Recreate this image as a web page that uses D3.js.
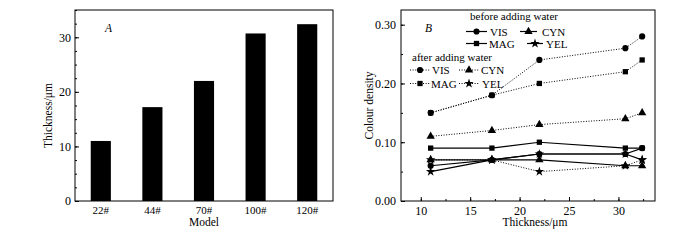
<!DOCTYPE html>
<html>
<head>
<meta charset="utf-8">
<script src="https://cdn.jsdelivr.net/npm/d3@7"></script>
<style>
  body { margin: 0; background: white; }
  text { font-family: "Liberation Serif", "DejaVu Serif", serif; fill: #000; }
</style>
</head>
<body>
<div id="chart"></div>
<script>
// data
const models = ["22#", "44#", "70#", "100#", "120#"];
const modelThickness = [11, 17.2, 22, 30.7, 32.4];

const thickness = [11, 17.2, 22, 30.7, 32.4];
const visBefore = [0.06, 0.07, 0.08, 0.08, 0.09];
const magBefore = [0.09, 0.09, 0.10, 0.09, 0.09];
const cynBefore = [0.07, 0.07, 0.07, 0.06, 0.06];
const yelBefore = [0.05, 0.07, 0.08, 0.08, 0.07];
const visAfter = [0.15, 0.18, 0.24, 0.26, 0.28];
const magAfter = [0.15, 0.18, 0.20, 0.22, 0.24];
const cynAfter = [0.11, 0.12, 0.13, 0.14, 0.15];
const yelAfter = [0.07, 0.07, 0.05, 0.06, 0.07];

const yTicksA = [0, 10, 20, 30];
const xTicksB = [10, 15, 20, 25, 30];
const yTicksB = [0, 0.1, 0.2, 0.3];

const width = 700;
const height = 240;

const svg = d3.select("#chart")
    .append("svg")
    .attr("width", width)
    .attr("height", height)
    .style("background-color", "white");

const tickFont = "12px";
const labelFont = "11.5px";
const legendFont = "11px";

//---------- panel A ----------
const boxA = {l: 75, r: 333, t: 10, b: 201};

const xA = d3.scaleBand()
    .domain(models)
    .range([boxA.l, boxA.r])
    .paddingInner(0.61)
    .paddingOuter(0.305);

const yA = d3.scaleLinear()
    .domain([0, 35])
    .range([boxA.b, boxA.t]);

const gA = svg.append("g");

gA.selectAll("rect.bar")
    .data(models)
    .enter()
    .append("rect")
    .attr("class", "bar")
    .attr("x", d => xA(d))
    .attr("width", xA.bandwidth())
    .attr("y", (d, i) => yA(modelThickness[i]))
    .attr("height", (d, i) => yA(0) - yA(modelThickness[i]))
    .attr("fill", "#000");

// minor ticks
gA.append("g")
    .attr("transform", `translate(${boxA.l},0)`)
    .call(d3.axisRight(yA).tickValues(d3.range(0, 35.1, 2.5)).tickSize(2).tickFormat(""))
    .call(g => g.select(".domain").remove());

gA.append("g")
    .attr("transform", `translate(${boxA.l},0)`)
    .call(d3.axisLeft(yA).tickValues(yTicksA).tickSize(0).tickPadding(4))
    .call(g => g.select(".domain").remove())
    .call(g => g.selectAll("text").style("font-size", tickFont));

gA.append("g")
    .attr("transform", `translate(${boxA.l},0)`)
    .call(d3.axisRight(yA).tickValues(yTicksA).tickSize(4).tickFormat(""))
    .call(g => g.select(".domain").remove());

gA.append("g")
    .attr("transform", `translate(0,${boxA.b})`)
    .call(d3.axisBottom(xA).tickSize(0).tickPadding(5))
    .call(g => g.select(".domain").remove())
    .call(g => g.selectAll("text").style("font-size", "11px"));

gA.append("rect")
    .attr("x", boxA.l)
    .attr("y", boxA.t)
    .attr("width", boxA.r - boxA.l)
    .attr("height", boxA.b - boxA.t)
    .attr("fill", "none")
    .attr("stroke", "#000")
    .attr("stroke-width", 1);

gA.append("text")
    .attr("x", 105)
    .attr("y", 32)
    .style("font-style", "italic")
    .style("font-size", labelFont)
    .text("A");

gA.append("text")
    .attr("transform", `translate(52,${(boxA.t + boxA.b) / 2 + 10}) rotate(-90)`)
    .attr("text-anchor", "middle")
    .style("font-size", labelFont)
    .text("Thickness/μm");

gA.append("text")
    .attr("x", (boxA.l + boxA.r) / 2)
    .attr("y", 226)
    .attr("text-anchor", "middle")
    .style("font-size", labelFont)
    .text("Model");

//---------- panel B ----------
const boxB = {l: 401, r: 655, t: 10, b: 201};

const xB = d3.scaleLinear()
    .domain([8, 33.7])
    .range([boxB.l, boxB.r]);

const yB = d3.scaleLinear()
    .domain([0, 0.325])
    .range([boxB.b, boxB.t]);

const gB = svg.append("g");

gB.append("g")
    .attr("transform", `translate(0,${boxB.b})`)
    .call(d3.axisTop(xB).tickValues(d3.range(10, 33.6, 2.5)).tickSize(2).tickFormat(""))
    .call(g => g.select(".domain").remove());
gB.append("g")
    .attr("transform", `translate(0,${boxB.b})`)
    .call(d3.axisTop(xB).tickValues(xTicksB).tickSize(4).tickFormat(""))
    .call(g => g.select(".domain").remove());
gB.append("g")
    .attr("transform", `translate(0,${boxB.b})`)
    .call(d3.axisBottom(xB).tickValues(xTicksB).tickSize(0).tickPadding(5))
    .call(g => g.select(".domain").remove())
    .call(g => g.selectAll("text").style("font-size", tickFont));

gB.append("g")
    .attr("transform", `translate(${boxB.l},0)`)
    .call(d3.axisRight(yB).tickValues(d3.range(0, 0.33, 0.05)).tickSize(2).tickFormat(""))
    .call(g => g.select(".domain").remove());
gB.append("g")
    .attr("transform", `translate(${boxB.l},0)`)
    .call(d3.axisRight(yB).tickValues(yTicksB).tickSize(4).tickFormat(""))
    .call(g => g.select(".domain").remove());
gB.append("g")
    .attr("transform", `translate(${boxB.l},0)`)
    .call(d3.axisLeft(yB).tickValues(yTicksB).tickSize(0).tickPadding(5).tickFormat(d3.format(".2f")))
    .call(g => g.select(".domain").remove())
    .call(g => g.selectAll("text").style("font-size", tickFont));

gB.append("rect")
    .attr("x", boxB.l)
    .attr("y", boxB.t)
    .attr("width", boxB.r - boxB.l)
    .attr("height", boxB.b - boxB.t)
    .attr("fill", "none")
    .attr("stroke", "#000")
    .attr("stroke-width", 1);

const symbols = {
    VIS: d3.symbol().type(d3.symbolCircle).size(30)(),
    MAG: d3.symbol().type(d3.symbolSquare).size(28)(),
    CYN: d3.symbol().type(d3.symbolTriangle).size(30)(),
    YEL: d3.symbol().type(d3.symbolStar).size(28)()
};

const dotted = "1,1.6";

const series = [
    {name: "VIS", values: visAfter, dash: dotted},
    {name: "MAG", values: magAfter, dash: dotted},
    {name: "CYN", values: cynAfter, dash: dotted},
    {name: "YEL", values: yelAfter, dash: dotted},
    {name: "MAG", values: magBefore, dash: null},
    {name: "CYN", values: cynBefore, dash: null},
    {name: "VIS", values: visBefore, dash: null},
    {name: "YEL", values: yelBefore, dash: null}
];

const line = d3.line()
    .x((d, i) => xB(thickness[i]))
    .y(d => yB(d));

series.forEach(s => {
    gB.append("path")
        .attr("d", line(s.values))
        .attr("fill", "none")
        .attr("stroke", "#000")
        .attr("stroke-width", s.dash ? 1 : 1.2)
        .attr("stroke-dasharray", s.dash);
});

series.forEach(s => {
    gB.selectAll(null)
        .data(s.values)
        .enter()
        .append("path")
        .attr("d", symbols[s.name])
        .attr("transform", (d, i) => `translate(${xB(thickness[i])},${yB(d)})`)
        .attr("fill", "#000");
});

// legends
function legendItem(x1, x2, y, name, dash, tx) {
    gB.append("line")
        .attr("x1", x1).attr("x2", x2)
        .attr("y1", y).attr("y2", y)
        .attr("stroke", "#000")
        .attr("stroke-width", dash ? 1 : 1.2)
        .attr("stroke-dasharray", dash);
    gB.append("path")
        .attr("d", symbols[name])
        .attr("transform", `translate(${(x1 + x2) / 2},${y})`)
        .attr("fill", "#000");
    gB.append("text")
        .attr("x", tx)
        .attr("y", y + 4)
        .style("font-size", legendFont)
        .text(name);
}

gB.append("text")
    .attr("x", 470)
    .attr("y", 20)
    .style("font-size", legendFont)
    .text("before adding water");
legendItem(466, 487, 31.5, "VIS", null, 490);
legendItem(520, 537, 31.5, "CYN", null, 542);
legendItem(466, 487, 43.5, "MAG", null, 489);
legendItem(527, 543, 43.5, "YEL", null, 546);

gB.append("text")
    .attr("x", 412)
    .attr("y", 61)
    .style("font-size", legendFont)
    .text("after adding water");
legendItem(410, 430, 70, "VIS", dotted, 432);
legendItem(459, 479, 70, "CYN", dotted, 481);
legendItem(410, 430, 83.5, "MAG", dotted, 431);
legendItem(459, 479, 83.5, "YEL", dotted, 482);

gB.append("text")
    .attr("x", 425)
    .attr("y", 32)
    .style("font-style", "italic")
    .style("font-size", labelFont)
    .text("B");

gB.append("text")
    .attr("transform", `translate(373,${(boxB.t + boxB.b) / 2}) rotate(-90)`)
    .attr("text-anchor", "middle")
    .style("font-size", labelFont)
    .text("Colour density");

gB.append("text")
    .attr("x", 535)
    .attr("y", 226)
    .attr("text-anchor", "middle")
    .style("font-size", labelFont)
    .text("Thickness/μm");
</script>
</body>
</html>
